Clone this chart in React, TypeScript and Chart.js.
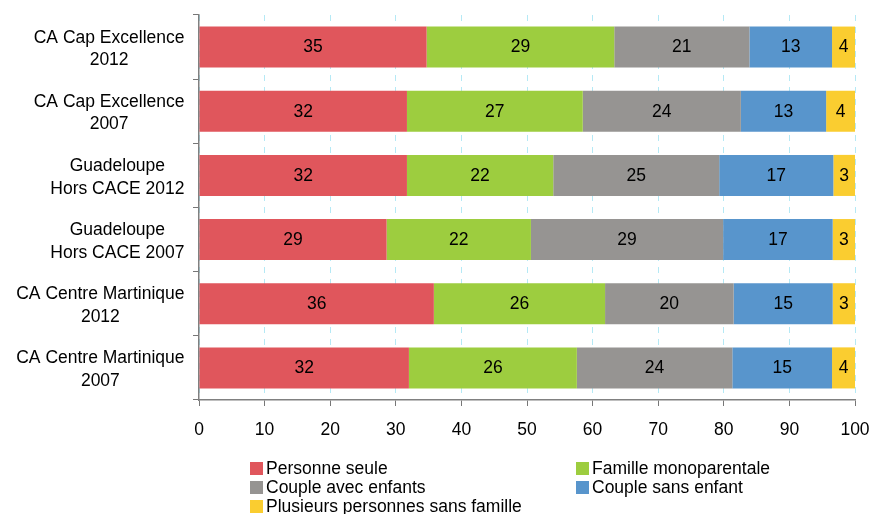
import React, { useEffect, useRef } from "react";
import { Chart, registerables } from "chart.js";

Chart.register(...registerables);

const categories: string[][] = [
  ["CA Cap Excellence", "2012"],
  ["CA Cap Excellence", "2007"],
  ["Guadeloupe", "Hors CACE 2012"],
  ["Guadeloupe", "Hors CACE 2007"],
  ["CA Centre Martinique", "2012"],
  ["CA Centre Martinique", "2007"],
];

const seriesNames = [
  "Personne seule",
  "Famille monoparentale",
  "Couple avec enfants",
  "Couple sans enfant",
  "Plusieurs personnes sans famille",
];

const personneSeule = [34.7, 31.7, 31.7, 28.6, 35.8, 32.0];
const familleMonoparentale = [28.6, 26.8, 22.3, 22.0, 26.1, 25.6];
const coupleAvecEnfants = [20.6, 24.1, 25.3, 29.3, 19.6, 23.7];
const coupleSansEnfant = [12.6, 13.0, 17.4, 16.7, 15.1, 15.2];
const plusieursPersonnes = [3.5, 4.4, 3.3, 3.4, 3.4, 3.5];

const xTicks = [0, 10, 20, 30, 40, 50, 60, 70, 80, 90, 100];

const colors = ["#E0565C", "#9DCD3F", "#969492", "#5895CC", "#FACD30"];

const FONT = '"Liberation Sans", Arial, sans-serif';
const FS = 17.5;

export default function App() {
  const ref = useRef<HTMLCanvasElement | null>(null);

  useEffect(() => {
    if (!ref.current) return;
    const seriesData = [
      personneSeule,
      familleMonoparentale,
      coupleAvecEnfants,
      coupleSansEnfant,
      plusieursPersonnes,
    ];

    const yLabelsPlugin = {
      id: "yLabels",
      afterDraw(chart: any) {
        const ctx = chart.ctx;
        const yScale = chart.scales.y;
        ctx.save();
        ctx.font = FS + "px " + FONT;
        ctx.fillStyle = "#000";
        ctx.textAlign = "center";
        ctx.textBaseline = "middle";
        const rightEdge = 184.5;
        const lineGap = 22.7;
        categories.forEach((lines, i) => {
          const y = yScale.getPixelForValue(i) + 2;
          const w = Math.max(...lines.map((l) => ctx.measureText(l).width));
          const cx = rightEdge - w / 2;
          lines.forEach((l, j) => {
            const ly = y + (j - (lines.length - 1) / 2) * lineGap;
            ctx.fillText(l, cx, ly);
          });
        });
        ctx.restore();
      },
    };

    const dataLabelsPlugin = {
      id: "dataLabels",
      afterDatasetsDraw(chart: any) {
        const ctx = chart.ctx;
        ctx.save();
        ctx.font = FS + "px " + FONT;
        ctx.fillStyle = "#000";
        ctx.textAlign = "center";
        ctx.textBaseline = "middle";
        chart.data.datasets.forEach((ds: any, di: number) => {
          const meta = chart.getDatasetMeta(di);
          meta.data.forEach((el: any, i: number) => {
            const { x, base, y } = el.getProps(["x", "base", "y"], true);
            ctx.fillText(String(Math.round(ds.data[i])), (x + base) / 2, y + 0.5);
          });
        });
        ctx.restore();
      },
    };

    const chart = new Chart(ref.current, {
      type: "bar",
      data: {
        labels: categories.map((c) => c.join(" ")),
        datasets: seriesNames.map((name, i) => ({
          label: name,
          data: seriesData[i],
          backgroundColor: colors[i],
          borderWidth: 0,
          categoryPercentage: 1,
          barPercentage: 0.64,
        })),
      },
      options: {
        indexAxis: "y",
        animation: false,
        responsive: false,
        layout: { padding: { top: 15, right: 29, left: 0, bottom: 0 } },
        plugins: {
          legend: { display: false },
          tooltip: { enabled: false },
        },
        scales: {
          x: {
            stacked: true,
            min: 0,
            max: 100,
            afterBuildTicks(scale: any) {
              scale.ticks = xTicks.map((v) => ({ value: v }));
            },
            afterFit(scale: any) {
              scale.height = 114;
            },
            ticks: {
              font: { size: FS, family: FONT },
              color: "#000",
              padding: 14,
              maxRotation: 0,
            },
            grid: {
              color: "#B5E9F5",
              lineWidth: 1,
              tickColor: "#777",
              tickLength: 6,
              tickBorderDash: [],
            },
            border: { color: "#808080", width: 1.5, dash: [6, 6] },
          },
          y: {
            stacked: true,
            offset: true,
            afterFit(scale: any) {
              scale.width = 199;
            },
            ticks: { display: false },
            grid: {
              offset: true,
              drawOnChartArea: false,
              drawTicks: true,
              tickLength: 6,
              tickColor: "#777",
            },
            border: { color: "#808080", width: 1.5 },
          },
        },
      },
      plugins: [yLabelsPlugin, dataLabelsPlugin],
    } as any);

    return () => chart.destroy();
  }, []);

  const legendPos = [
    { left: 250, top: 458 },
    { left: 576, top: 458 },
    { left: 250, top: 477 },
    { left: 576, top: 477 },
    { left: 250, top: 496 },
  ];

  return (
    <div style={{ position: "absolute", left: 0, top: 0, width: 884, height: 514, background: "#fff", fontFamily: FONT, overflow: "hidden" }}>
      <canvas ref={ref} width={884} height={514} style={{ display: "block" }} />
      {seriesNames.map((name, i) => (
        <div
          key={name}
          style={{
            position: "absolute",
            left: legendPos[i].left,
            top: legendPos[i].top,
            height: 20,
            whiteSpace: "nowrap",
          }}
        >
          <span
            style={{
              position: "absolute",
              left: 0,
              top: 4,
              width: 13,
              height: 13,
              background: colors[i],
            }}
          />
          <span
            style={{
              position: "absolute",
              left: 16,
              top: 0,
              fontSize: FS,
              lineHeight: "20px",
              color: "#000",
            }}
          >
            {name}
          </span>
        </div>
      ))}
    </div>
  );
}
